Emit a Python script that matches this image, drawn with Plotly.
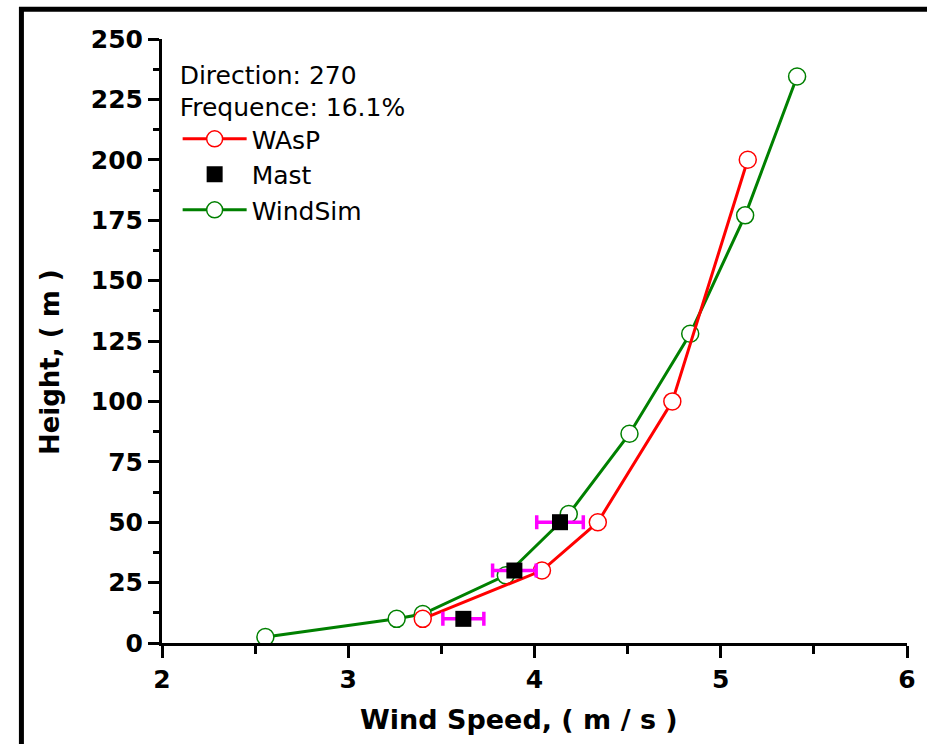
import plotly.graph_objects as go

# ---- data ----
wasp_speed = [3.40, 4.04, 4.34, 4.74, 5.145]
wasp_height = [10, 30, 50, 100, 200]

windsim_speed = [2.555, 3.26, 3.40, 3.846, 4.184, 4.51, 4.836, 5.131, 5.41]
windsim_height = [2.5, 10, 12, 28, 53.4, 86.6, 128, 177, 234.5]

mast_speed = [3.618, 3.892, 4.137]
mast_height = [10, 30, 50]
mast_err = [0.11, 0.117, 0.125]

x_ticks = [2, 3, 4, 5, 6]
y_ticks = [0, 25, 50, 75, 100, 125, 150, 175, 200, 225, 250]

FONT = "DejaVu Sans, Liberation Sans, Arial, sans-serif"
RED = "#FF0000"
GREEN = "#008000"
MAGENTA = "#FF00FF"

fig = go.Figure()

fig.add_trace(go.Scatter(
    x=windsim_speed, y=windsim_height, name="WindSim", mode="lines+markers",
    line=dict(color=GREEN, width=3),
    marker=dict(symbol="circle", size=17, color="white", line=dict(color=GREEN, width=1.5)),
    legendrank=3,
))
fig.add_trace(go.Scatter(
    x=wasp_speed, y=wasp_height, name="WAsP", mode="lines+markers",
    line=dict(color=RED, width=3),
    marker=dict(symbol="circle", size=17, color="white", line=dict(color=RED, width=1.5)),
    legendrank=1,
))
fig.add_trace(go.Scatter(
    x=mast_speed, y=mast_height, name="Mast", mode="markers",
    marker=dict(symbol="square", size=16, color="black"),
    error_x=dict(type="data", array=mast_err, color=MAGENTA, thickness=3.5, width=7),
    legendrank=2,
))

axis_common = dict(showgrid=False, zeroline=False, showline=True, linecolor="black",
                   linewidth=3, tickcolor="black")

fig.update_layout(
    width=927, height=744,
    margin=dict(l=162, r=20, t=39, b=101),
    paper_bgcolor="white", plot_bgcolor="white",
    font=dict(family=FONT, color="black"),
    xaxis=dict(
        range=[2, 6], tickvals=x_ticks, ticktext=[str(v) for v in x_ticks],
        ticks="outside", ticklen=12, tickwidth=3,
        minor=dict(dtick=0.5, ticks="outside", ticklen=8, tickwidth=3, tickcolor="black"),
        tickfont=dict(family=FONT, size=25, color="black", weight="bold"),
        **axis_common,
    ),
    yaxis=dict(
        range=[0, 250], tickvals=y_ticks, ticktext=[str(v) for v in y_ticks],
        ticks="outside", ticklen=11, tickwidth=3,
        minor=dict(dtick=12.5, ticks="outside", ticklen=6, tickwidth=3, tickcolor="black"),
        tickfont=dict(family=FONT, size=25, color="black", weight="bold"),
        **axis_common,
    ),
    xaxis2=dict(
        range=[2, 6], overlaying="x", side="top", anchor="y", dtick=0.5, tick0=2,
        ticks="inside", ticklen=4, tickwidth=2, showticklabels=False,
        **axis_common,
    ),
    yaxis2=dict(
        range=[0, 250], overlaying="y", side="right", anchor="x", dtick=12.5, tick0=0,
        ticks="inside", ticklen=4, tickwidth=2, showticklabels=False,
        **axis_common,
    ),
    legend=dict(
        x=0.021, y=0.980, xanchor="left", yanchor="top",
        bgcolor="rgba(0,0,0,0)", borderwidth=0,
        font=dict(family=FONT, size=25, color="black"),
        title=dict(text="Direction: 270<br>Frequence: 16.1%", font=dict(family=FONT, size=25, color="black")),
        itemwidth=64, tracegroupgap=0,
    ),
    showlegend=True,
)

# axis titles (placed as in the reference, slightly off-centre)
fig.add_annotation(text="<b>Wind Speed, ( m / s )</b>", xref="paper", yref="paper",
                   x=0.4794, y=-0.127, xanchor="center", yanchor="middle", showarrow=False,
                   font=dict(family=FONT, size=27, color="black"))
fig.add_annotation(text="<b>Height, ( m )</b>", xref="paper", yref="paper",
                   x=-0.1504, y=0.465, xanchor="center", yanchor="middle", showarrow=False,
                   textangle=-90, font=dict(family=FONT, size=26, color="black"))

# outer figure frame (extends beyond the visible page at right/bottom)
fig.add_shape(type="rect", xref="paper", yref="paper",
              x0=-0.1887, y0=-0.25, x1=1.1, y1=1.0493,
              line=dict(color="black", width=5), fillcolor="rgba(0,0,0,0)", layer="above")

fig.write_html("out.html")
